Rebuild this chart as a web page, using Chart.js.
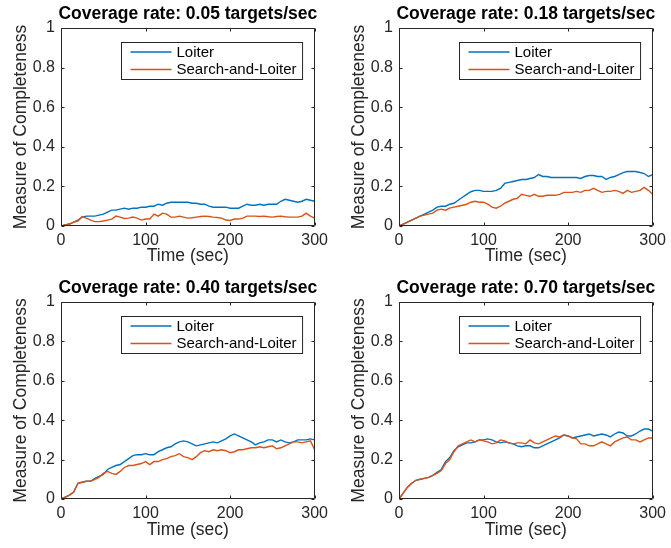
<!DOCTYPE html>
<html>
<head>
<meta charset="utf-8">
<title>Measure of Completeness vs. Time</title>
<script src="https://cdn.jsdelivr.net/npm/chart.js@4.4.1/dist/chart.umd.min.js"></script>
<style>
  html, body { margin: 0; padding: 0; background: #ffffff; }
  #wrap { position: relative; width: 671px; height: 548px; overflow: hidden; background: #ffffff; }
  #wrap canvas { position: absolute; }
</style>
</head>
<body>
<div id="wrap">
  <canvas id="p0" width="333" height="274" style="left:0px;top:0px;width:333px;height:274px"></canvas>
  <canvas id="p1" width="333" height="274" style="left:338px;top:0px;width:333px;height:274px"></canvas>
  <canvas id="p2" width="333" height="274" style="left:0px;top:274px;width:333px;height:274px"></canvas>
  <canvas id="p3" width="333" height="274" style="left:338px;top:274px;width:333px;height:274px"></canvas>
</div>
<script>
// Simulation time samples (seconds)
const times = [
  0, 5, 10, 15, 20, 25, 30, 35, 40, 45, 50, 55, 60, 65, 70, 75, 80, 85, 90, 95,
  100, 105, 110, 115, 120, 125, 130, 135, 140, 145, 150, 155, 160, 165, 170, 175, 180, 185, 190, 195,
  200, 205, 210, 215, 220, 225, 230, 235, 240, 245, 250, 255, 260, 265, 270, 275, 280, 285, 290, 295,
  300
];

const seriesNames = ['Loiter', 'Search-and-Loiter'];
const coverageRates = ['0.05', '0.18', '0.40', '0.70'];

const xTicks = [0, 100, 200, 300];
const yTicks = [0, 0.2, 0.4, 0.6, 0.8, 1];

// Coverage rate 0.05 targets/sec
const loiter005 = [
  0, 0.005, 0.01, 0.02, 0.03, 0.045, 0.05, 0.05, 0.05, 0.055, 0.06, 0.07, 0.08, 0.08, 0.085, 0.09, 0.085, 0.09, 0.09, 0.095,
  0.095, 0.1, 0.1, 0.11, 0.105, 0.115, 0.12, 0.12, 0.12, 0.12, 0.12, 0.115, 0.115, 0.11, 0.11, 0.1, 0.095, 0.095, 0.095, 0.095,
  0.09, 0.09, 0.09, 0.1, 0.11, 0.105, 0.105, 0.11, 0.105, 0.11, 0.11, 0.11, 0.125, 0.135, 0.13, 0.125, 0.12, 0.125, 0.135, 0.13,
  0.125
];
const searchLoiter005 = [
  0, 0.005, 0.01, 0.02, 0.025, 0.048, 0.04, 0.03, 0.022, 0.022, 0.025, 0.03, 0.035, 0.05, 0.045, 0.038, 0.04, 0.045, 0.04, 0.03,
  0.035, 0.035, 0.06, 0.05, 0.065, 0.06, 0.045, 0.045, 0.05, 0.045, 0.04, 0.042, 0.045, 0.048, 0.05, 0.048, 0.045, 0.043, 0.04, 0.03,
  0.028, 0.035, 0.035, 0.04, 0.05, 0.05, 0.05, 0.048, 0.05, 0.047, 0.045, 0.048, 0.05, 0.047, 0.045, 0.045, 0.045, 0.05, 0.065, 0.05,
  0.04
];

// Coverage rate 0.18 targets/sec
const loiter018 = [
  0, 0.01, 0.02, 0.03, 0.04, 0.05, 0.06, 0.07, 0.08, 0.095, 0.1, 0.1, 0.11, 0.115, 0.13, 0.145, 0.16, 0.173, 0.18, 0.18,
  0.175, 0.175, 0.175, 0.18, 0.19, 0.215, 0.22, 0.225, 0.23, 0.235, 0.235, 0.24, 0.245, 0.26, 0.25, 0.25, 0.245, 0.245, 0.245, 0.245,
  0.245, 0.245, 0.245, 0.24, 0.25, 0.255, 0.255, 0.25, 0.25, 0.235, 0.245, 0.25, 0.26, 0.27, 0.275, 0.275, 0.275, 0.27, 0.265, 0.25,
  0.26
];
const searchLoiter018 = [
  0, 0.01, 0.02, 0.03, 0.04, 0.05, 0.055, 0.06, 0.065, 0.08, 0.085, 0.08, 0.09, 0.095, 0.1, 0.105, 0.11, 0.12, 0.125, 0.12,
  0.12, 0.11, 0.095, 0.09, 0.1, 0.115, 0.125, 0.135, 0.14, 0.16, 0.155, 0.15, 0.16, 0.15, 0.15, 0.155, 0.155, 0.155, 0.16, 0.17,
  0.17, 0.17, 0.175, 0.17, 0.18, 0.18, 0.19, 0.18, 0.17, 0.175, 0.175, 0.18, 0.175, 0.165, 0.18, 0.17, 0.175, 0.18, 0.195, 0.18,
  0.16
];

// Coverage rate 0.40 targets/sec
const loiter040 = [
  0, 0.01, 0.02, 0.035, 0.08, 0.085, 0.09, 0.09, 0.105, 0.115, 0.125, 0.15, 0.16, 0.17, 0.175, 0.19, 0.205, 0.22, 0.225, 0.225,
  0.23, 0.225, 0.225, 0.24, 0.25, 0.26, 0.265, 0.28, 0.29, 0.295, 0.29, 0.28, 0.27, 0.275, 0.28, 0.285, 0.29, 0.285, 0.295, 0.305,
  0.32, 0.33, 0.32, 0.31, 0.3, 0.29, 0.275, 0.285, 0.29, 0.3, 0.3, 0.29, 0.3, 0.29, 0.285, 0.29, 0.3, 0.3, 0.3, 0.305,
  0.3
];
const searchLoiter040 = [
  0, 0.01, 0.02, 0.035, 0.08, 0.085, 0.09, 0.09, 0.1, 0.11, 0.13, 0.14, 0.13, 0.125, 0.14, 0.16, 0.17, 0.17, 0.175, 0.18,
  0.19, 0.175, 0.19, 0.19, 0.2, 0.205, 0.215, 0.22, 0.23, 0.215, 0.21, 0.2, 0.215, 0.235, 0.245, 0.24, 0.25, 0.245, 0.25, 0.245,
  0.235, 0.24, 0.25, 0.25, 0.255, 0.26, 0.26, 0.265, 0.26, 0.265, 0.27, 0.255, 0.26, 0.27, 0.28, 0.29, 0.29, 0.285, 0.29, 0.295,
  0.25
];

// Coverage rate 0.70 targets/sec
const loiter070 = [
  0, 0.03, 0.06, 0.08, 0.095, 0.1, 0.105, 0.11, 0.12, 0.135, 0.15, 0.19, 0.21, 0.245, 0.265, 0.275, 0.285, 0.285, 0.29, 0.3,
  0.3, 0.305, 0.3, 0.29, 0.285, 0.29, 0.285, 0.28, 0.27, 0.265, 0.27, 0.27, 0.26, 0.26, 0.27, 0.28, 0.29, 0.3, 0.31, 0.325,
  0.32, 0.31, 0.315, 0.32, 0.325, 0.33, 0.32, 0.325, 0.33, 0.325, 0.315, 0.33, 0.34, 0.335, 0.32, 0.32, 0.33, 0.345, 0.355, 0.355,
  0.345
];
const searchLoiter070 = [
  0, 0.03, 0.06, 0.08, 0.095, 0.1, 0.105, 0.11, 0.12, 0.13, 0.145, 0.18, 0.2, 0.24, 0.27, 0.28, 0.29, 0.3, 0.29, 0.3,
  0.295, 0.29, 0.28, 0.285, 0.3, 0.295, 0.285, 0.28, 0.285, 0.285, 0.28, 0.3, 0.285, 0.28, 0.29, 0.3, 0.31, 0.32, 0.315, 0.325,
  0.32, 0.31, 0.305, 0.28, 0.28, 0.27, 0.27, 0.28, 0.29, 0.28, 0.27, 0.29, 0.3, 0.31, 0.315, 0.3, 0.3, 0.29, 0.3, 0.31,
  0.31
];

const panelSeries = [
  [loiter005, searchLoiter005],
  [loiter018, searchLoiter018],
  [loiter040, searchLoiter040],
  [loiter070, searchLoiter070]
];

const FONT = '"Liberation Sans", Arial, Helvetica, sans-serif';
const INK = '#262626';
const LINE_COLORS = ['#0072BD', '#D95319'];

// Plot box inside each 333x274 canvas
const BOX = [
  { left: 61, right: 319, top: 28, bottom: 226 },
  { left: 61, right: 318, top: 28, bottom: 226 },
  { left: 61, right: 319, top: 28, bottom: 225 },
  { left: 61, right: 318, top: 28, bottom: 225 }
];

// Framed axes with inward ticks on all four sides, title, axis labels and boxed legend
const framePlugin = {
  id: 'frame',
  afterDatasetsDraw(chart, args, opts) {
    const ctx = chart.ctx;
    const ca = chart.chartArea;
    const xs = chart.scales.x, ys = chart.scales.y;
    const L = Math.round(ca.left) + 0.5, R = Math.round(ca.right) - 0.5;
    const T = Math.round(ca.top) + 0.5, B = Math.round(ca.bottom) - 0.5;
    const tl = 3;
    ctx.save();
    ctx.strokeStyle = INK;
    ctx.lineWidth = 1;
    ctx.beginPath();
    ctx.rect(L, T, R - L, B - T);
    xs.ticks.forEach(t => {
      const px = Math.round(xs.getPixelForValue(t.value)) + 0.5;
      ctx.moveTo(px, B); ctx.lineTo(px, B - tl);
      ctx.moveTo(px, T); ctx.lineTo(px, T + tl);
    });
    ys.ticks.forEach(t => {
      const py = Math.round(ys.getPixelForValue(t.value)) + 0.5;
      ctx.moveTo(L, py); ctx.lineTo(L + tl, py);
      ctx.moveTo(R, py); ctx.lineTo(R - tl, py);
    });
    ctx.stroke();

    // legend
    ctx.font = '15px ' + FONT;
    const names = chart.data.datasets.map(d => d.label);
    const tw = Math.max(...names.map(n => ctx.measureText(n).width));
    const lw = 9 + 41 + 5 + tw + 6, lh = 37;
    const lx = Math.round(ca.right - 13 - lw) + 0.5, ly = Math.round(ca.top + 14) + 0.5;
    ctx.fillStyle = '#ffffff';
    ctx.fillRect(lx, ly, lw, lh);
    ctx.strokeStyle = INK;
    ctx.strokeRect(lx, ly, lw, lh);
    const rows = [9.5, 27];
    chart.data.datasets.forEach((d, i) => {
      const y = ly + rows[i];
      ctx.strokeStyle = d.borderColor;
      ctx.lineWidth = 1.3;
      ctx.beginPath();
      ctx.moveTo(lx + 9, y); ctx.lineTo(lx + 50, y);
      ctx.stroke();
      ctx.fillStyle = '#000000';
      ctx.textAlign = 'left';
      ctx.textBaseline = 'middle';
      ctx.fillText(d.label, lx + 55, y + 0.5);
    });

    // title and axis labels
    const cx = (ca.left + ca.right) / 2, cy = (ca.top + ca.bottom) / 2;
    ctx.fillStyle = '#000000';
    ctx.font = 'bold 17.5px ' + FONT;
    ctx.textAlign = 'center';
    ctx.textBaseline = 'alphabetic';
    ctx.fillText(opts.title, cx, 18.5);
    ctx.fillStyle = INK;
    ctx.font = '17.5px ' + FONT;
    ctx.fillText(opts.xLabel, cx, 261);
    ctx.save();
    ctx.translate(25.5, cy);
    ctx.rotate(-Math.PI / 2);
    ctx.fillText(opts.yLabel, 0, 0);
    ctx.restore();
    ctx.restore();
  }
};

function makePanel(idx) {
  const box = BOX[idx];
  const canvas = document.getElementById('p' + idx);
  const W = canvas.width, H = canvas.height;
  const datasets = panelSeries[idx].map((vals, s) => ({
    label: seriesNames[s],
    data: times.map((t, k) => ({ x: t, y: vals[k] })),
    borderColor: LINE_COLORS[s],
    backgroundColor: LINE_COLORS[s],
    borderWidth: 1.4,
    pointRadius: 0,
    tension: 0,
    fill: false,
    order: s === 0 ? 1 : 0
  }));
  return new Chart(canvas, {
    type: 'line',
    data: { datasets },
    plugins: [framePlugin],
    options: {
      responsive: false,
      animation: false,
      events: [],
      layout: { padding: { left: 0, top: box.top, right: W - box.right, bottom: 0 } },
      scales: {
        x: {
          type: 'linear',
          min: 0, max: 300,
          afterBuildTicks(s) { s.ticks = xTicks.map(v => ({ value: v })); },
          afterFit(s) { s.height = H - box.bottom; },
          grid: { display: false, drawTicks: false },
          border: { display: false },
          ticks: {
            color: INK, padding: 5, maxRotation: 0, autoSkip: false,
            font: { family: FONT, size: 16 },
            callback: v => String(v)
          }
        },
        y: {
          type: 'linear',
          min: 0, max: 1,
          afterBuildTicks(s) { s.ticks = yTicks.map(v => ({ value: v })); },
          afterFit(s) { s.width = box.left; },
          grid: { display: false, drawTicks: false },
          border: { display: false },
          ticks: {
            color: INK, padding: 6, autoSkip: false,
            font: { family: FONT, size: 16 },
            callback: v => String(v)
          }
        }
      },
      plugins: {
        legend: { display: false },
        tooltip: { enabled: false },
        frame: {
          title: 'Coverage rate: ' + coverageRates[idx] + ' targets/sec',
          xLabel: 'Time (sec)',
          yLabel: 'Measure of Completeness'
        }
      }
    }
  });
}

[0, 1, 2, 3].forEach(makePanel);
</script>
</body>
</html>
